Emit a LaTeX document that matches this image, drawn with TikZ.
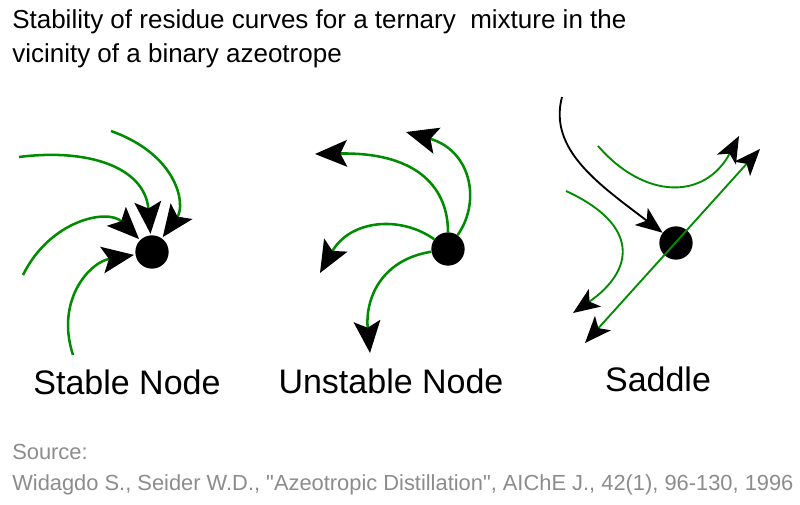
\documentclass[tikz,border=0pt]{standalone}
\usepackage{fontspec}
\setmainfont{Liberation Sans}
\usetikzlibrary{arrows.meta}
\definecolor{green}{rgb}{0,.55,0}
\definecolor{srcgray}{rgb}{.55,.55,.55}

\begin{document}
\begin{tikzpicture}[x=.75pt,y=-.75pt,
  point/.style={circle,fill=black,inner sep=0pt,minimum size=25pt},
  big/.tip={Stealth[length=24pt,width=20pt,inset=5pt,color=black]},
  tip/.tip={Stealth[length=20pt,width=16pt,inset=5pt,color=black]},
  flow/.style={draw=green,line width=1.9pt,-big},
  sflow/.style={draw=green,line width=1.4pt},
  lbl/.style={anchor=base,inner sep=0pt,font=\fontsize{25.5}{30}\selectfont}]
\useasboundingbox (0,0) rectangle (800,505);

\node[anchor=north west,inner sep=0pt,align=left,font=\fontsize{19.5}{25.5}\selectfont]
  (title) at (12,9) {Stability of residue curves for a ternary~ mixture in the\\vicinity of a binary azeotrope};

% stable node
\node[point] (sn) at (152,252) {};
\coordinate (s1) at (19,157);
\coordinate (s2) at (111,131);
\coordinate (s3) at (23,275);
\coordinate (s4) at (73,355);
\draw[flow,shorten >=1pt] (s1) .. controls (90,148) and (145,168) .. (sn);
\draw[flow,shorten >=1pt] (s2) .. controls (178,155) and (186,205) .. (sn);
\draw[flow,shorten >=1pt] (s3) .. controls (50,220) and (108,208) .. (sn);
\draw[flow,shorten >=1pt] (s4) .. controls (55,300) and (90,262) .. (sn);

% unstable node
\node[point] (un) at (448,249) {};
\coordinate (u1) at (315,154);
\coordinate (u2) at (406,132);
\coordinate (u3) at (320,273);
\coordinate (u4) at (370,353);
\draw[flow] (un) .. controls (448,190) and (420,152) .. (u1);
\draw[flow] (un) .. controls (482,200) and (470,150) .. (u2);
\draw[flow] (un) .. controls (400,215) and (350,220) .. (u3);
\draw[flow] (un) .. controls (380,260) and (365,300) .. (u4);

% saddle
\node[point] (sd) at (676,243) {};
\coordinate (b0) at (562,97);
\coordinate (g1) at (585,343);
\coordinate (g2) at (760,149);
\coordinate (t0) at (598,146);
\coordinate (t1) at (739,136);
\coordinate (l0) at (566,191);
\coordinate (l1) at (573,313);
\draw[line width=1.4pt,-tip] (b0) .. controls (548,150) and (600,185) .. (sd);
\draw[sflow,tip-tip] (g1) -- (g2);
\draw[sflow,-tip] (t0) .. controls (645,200) and (705,200) .. (t1);
\draw[sflow,-tip] (l0) .. controls (640,225) and (635,270) .. (l1);

\node[lbl] (stable) at (127,395) {Stable Node};
\node[lbl] (unstable) at (391,394) {Unstable Node};
\node[lbl] (saddle) at (658,392) {Saddle};

\node[anchor=north west,inner sep=0pt,align=left,text=srcgray,font=\fontsize{16.4}{23}\selectfont]
  (source) at (12,444) {Source:\\Widagdo S., Seider W.D., \textquotedbl Azeotropic Distillation\textquotedbl, AIChE J., 42(1), 96-130, 1996};
\end{tikzpicture}
\end{document}
